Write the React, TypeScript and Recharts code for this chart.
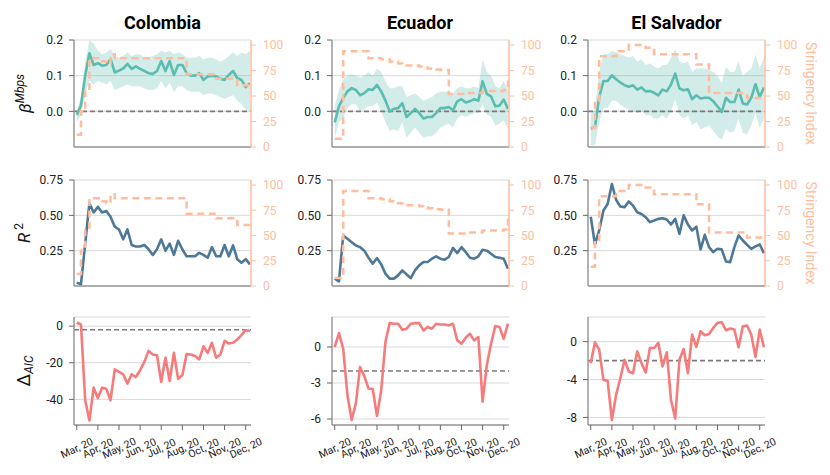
import React from 'react';
import { ComposedChart, Line, Area, XAxis, YAxis, CartesianGrid, ReferenceLine } from 'recharts';

// weekly points, Mar 2020 to Dec 2020
const monthTicks = [0, 5, 10, 15, 20, 25, 30, 35, 40];
const monthLabels = ['Mar, 20', 'Apr, 20', 'May, 20', 'Jun, 20', 'Jul, 20', 'Aug, 20', 'Oct, 20', 'Nov, 20', 'Dec, 20'];
const countries = ['Colombia', 'Ecuador', 'El Salvador'];

// Colombia
const colBeta = [-0.01, 0.016, 0.1, 0.163, 0.13, 0.135, 0.128, 0.13, 0.146, 0.109, 0.114, 0.12, 0.133, 0.119, 0.126, 0.119, 0.113, 0.107, 0.105, 0.113, 0.141, 0.113, 0.141, 0.102, 0.13, 0.13, 0.107, 0.1, 0.1, 0.107, 0.088, 0.098, 0.1, 0.098, 0.091, 0.088, 0.102, 0.113, 0.093, 0.088, 0.068, 0.079];
const colBetaHi = [0.0, 0.04, 0.14, 0.2, 0.19, 0.17, 0.16, 0.165, 0.175, 0.155, 0.15, 0.155, 0.165, 0.155, 0.16, 0.16, 0.15, 0.15, 0.155, 0.16, 0.17, 0.165, 0.17, 0.16, 0.165, 0.16, 0.15, 0.15, 0.15, 0.155, 0.145, 0.15, 0.15, 0.145, 0.14, 0.145, 0.155, 0.165, 0.155, 0.165, 0.16, 0.17];
const colBetaLo = [-0.03, -0.01, 0.05, 0.085, 0.075, 0.085, 0.08, 0.075, 0.085, 0.06, 0.065, 0.07, 0.075, 0.07, 0.07, 0.07, 0.065, 0.06, 0.06, 0.065, 0.085, 0.065, 0.08, 0.055, 0.07, 0.07, 0.06, 0.055, 0.055, 0.055, 0.045, 0.05, 0.05, 0.045, 0.04, 0.035, 0.04, 0.045, 0.03, 0.02, 0.005, 0.0];
const colR2 = [0.024, 0.012, 0.3, 0.586, 0.52, 0.56, 0.52, 0.53, 0.49, 0.42, 0.4, 0.33, 0.4, 0.29, 0.28, 0.28, 0.29, 0.26, 0.22, 0.26, 0.33, 0.25, 0.3, 0.22, 0.32, 0.26, 0.21, 0.21, 0.21, 0.235, 0.22, 0.2, 0.275, 0.21, 0.21, 0.29, 0.21, 0.287, 0.19, 0.165, 0.19, 0.153];
const colAic = [2.0, 0.9, -40.5, -51.5, -33.6, -39.3, -33.6, -34.2, -40.5, -23.6, -25, -26.3, -31.4, -26.3, -27.8, -24.1, -19.5, -13.5, -15.5, -15.9, -30.5, -17.2, -30, -14.6, -28.7, -26.8, -15.3, -15.5, -16.3, -18.1, -11, -14.6, -9.1, -17.2, -15.5, -8, -9.5, -9.1, -7.3, -4.9, -2.2, -2.6];
const colStringency = [12, 35, 55, 87, 87, 87, 84, 82, 91, 87, 87, 87, 87, 87, 87, 87, 87, 87, 87, 87, 87, 87, 87, 87, 87, 87, 71.5, 71.5, 71.5, 71.5, 71.5, 71.5, 71.5, 67, 67, 67, 67, 67, 60.5, 60.5, 60.5, 60.5];

// Ecuador
const ecuBeta = [-0.031, 0.014, 0.037, 0.056, 0.065, 0.06, 0.045, 0.051, 0.062, 0.06, 0.074, 0.056, 0.03, 0.0, 0.007, 0.009, 0.023, -0.016, -0.005, 0.007, -0.005, -0.02, -0.016, -0.016, -0.005, 0.009, 0.009, 0.012, 0.003, 0.028, 0.034, 0.025, 0.028, 0.034, 0.03, 0.084, 0.049, 0.042, 0.014, 0.016, 0.033, 0.007];
const ecuBetaHi = [0.014, 0.06, 0.09, 0.1, 0.105, 0.1, 0.095, 0.1, 0.11, 0.1, 0.12, 0.11, 0.085, 0.065, 0.065, 0.07, 0.07, 0.04, 0.045, 0.05, 0.04, 0.03, 0.035, 0.04, 0.05, 0.055, 0.055, 0.055, 0.05, 0.065, 0.07, 0.065, 0.065, 0.07, 0.065, 0.145, 0.11, 0.1, 0.07, 0.065, 0.085, 0.06];
const ecuBetaLo = [-0.075, -0.03, -0.02, 0.01, 0.02, 0.02, 0.0, 0.005, 0.015, 0.015, 0.025, 0.0, -0.03, -0.055, -0.05, -0.055, -0.03, -0.075, -0.06, -0.045, -0.06, -0.075, -0.07, -0.07, -0.06, -0.045, -0.04, -0.035, -0.045, -0.02, -0.01, -0.015, -0.01, -0.005, -0.005, 0.02, -0.01, -0.015, -0.04, -0.035, -0.025, -0.05];
const ecuR2 = [0.052, 0.033, 0.357, 0.334, 0.31, 0.287, 0.275, 0.25, 0.2, 0.158, 0.198, 0.153, 0.087, 0.052, 0.052, 0.075, 0.11, 0.082, 0.056, 0.11, 0.146, 0.17, 0.17, 0.193, 0.21, 0.193, 0.186, 0.205, 0.27, 0.233, 0.275, 0.24, 0.2, 0.193, 0.21, 0.256, 0.25, 0.228, 0.205, 0.2, 0.193, 0.122];
const ecuAic = [0, 1.16, -0.14, -4.0, -6.08, -4.7, -1.66, -2.43, -3.46, -3.5, -5.75, -3.6, 0.41, 1.99, 1.94, 1.94, 1.44, 1.52, 1.94, 1.99, 1.99, 1.38, 1.66, 1.52, 1.94, 1.88, 1.88, 1.8, 1.94, 0.55, 0.28, 0.77, 1.1, 0.55, 0.83, -4.56, -1.52, 0.28, 1.74, 1.66, 0.69, 1.94];
const ecuStringency = [8, 8, 94, 94, 94, 94, 94, 94, 87, 87, 87, 86, 86, 84, 84, 82, 80, 80, 80, 80, 79, 78, 77, 77, 76, 75.5, 75.5, 52, 52, 52, 52, 53, 53, 53, 53, 55, 55, 55, 55, 55, 56, 71];

// El Salvador
const slvBeta = [-0.049, -0.044, 0.04, 0.085, 0.085, 0.101, 0.09, 0.081, 0.073, 0.069, 0.073, 0.061, 0.067, 0.056, 0.057, 0.052, 0.045, 0.061, 0.056, 0.075, 0.106, 0.064, 0.059, 0.062, 0.034, 0.045, 0.036, 0.038, 0.038, 0.028, 0.014, -0.002, 0.038, 0.026, 0.026, 0.061, 0.022, 0.019, 0.038, 0.076, 0.04, 0.067];
const slvBetaHi = [-0.005, 0.005, 0.11, 0.16, 0.16, 0.17, 0.165, 0.16, 0.155, 0.15, 0.155, 0.14, 0.145, 0.13, 0.135, 0.125, 0.12, 0.13, 0.13, 0.15, 0.175, 0.14, 0.135, 0.14, 0.11, 0.12, 0.12, 0.12, 0.115, 0.11, 0.1, 0.08, 0.125, 0.11, 0.11, 0.14, 0.1, 0.11, 0.12, 0.16, 0.12, 0.15];
const slvBetaLo = [-0.095, -0.095, -0.03, 0.01, 0.01, 0.03, 0.03, 0.02, 0.01, 0.005, 0.0, -0.005, 0.0, -0.01, -0.01, -0.02, -0.02, -0.01, -0.02, 0.0, 0.035, -0.01, -0.02, -0.01, -0.04, -0.03, -0.05, -0.045, -0.04, -0.055, -0.07, -0.08, -0.05, -0.06, -0.055, -0.02, -0.06, -0.065, -0.04, -0.005, -0.045, -0.02];
const slvR2 = [0.49, 0.294, 0.393, 0.534, 0.58, 0.722, 0.61, 0.562, 0.558, 0.598, 0.569, 0.522, 0.51, 0.487, 0.452, 0.463, 0.475, 0.48, 0.47, 0.435, 0.475, 0.369, 0.5, 0.435, 0.393, 0.42, 0.259, 0.362, 0.275, 0.24, 0.263, 0.259, 0.174, 0.169, 0.275, 0.358, 0.322, 0.292, 0.263, 0.28, 0.294, 0.233];
const slvAic = [-2.27, -0.07, -0.85, -4.04, -4.14, -8.28, -5.63, -3.86, -1.91, -3.15, -3.33, -1.03, -2.27, -3.26, -0.67, -0.67, -0.14, -2.62, -1.13, -6.16, -8.1, -1.91, -0.78, -3.33, 0.74, -0.57, 1.1, 0.67, 0.81, 1.45, 1.98, 2.05, 1.2, 1.38, 1.27, -0.6, 1.63, 1.7, 0.74, -1.63, 1.27, -0.6];
const slvStringency = [19, 45, 89, 89, 89, 89, 94, 94, 94, 100, 100, 100, 100, 97.5, 97.5, 91, 91, 91, 91, 91, 91, 91, 91, 91, 91, 81, 81, 81, 53, 53, 53, 53, 53, 53, 53, 53, 53, 48, 48, 48, 48, 48];

const betaTicks = [0, 0.1, 0.2];
const r2Ticks = [0.25, 0.5, 0.75];
const stringencyTicks = [0, 25, 50, 75, 100];
const aicTicks = [[-40, -20, 0], [-6, -3, 0], [-8, -4, 0]];
const aicDomains = [[-54, 5], [-6.5, 2.5], [-8.8, 2.6]];

const TEAL = '#5bbcb0';
const BLUE = '#4d7897';
const RED = '#f67b7b';
const PEACH = '#ffbd9e';
const GRID = '#d9d9d9';
const AXIS = '#999999';
const DASH = '#7a7a7a';

const PLOT_W = 177;
const LEFT_W = 45;
const RIGHT_W = 36;
const colLeft = [74, 331.5, 588];

function buildRows(main: number[], str?: number[], lo?: number[], hi?: number[]) {
  return main.map((v, i) => ({
    week: i,
    main: v,
    str: str ? str[i] : undefined,
    band: lo && hi ? [lo[i], hi[i]] : undefined,
  }));
}

const MonthTick = (props: any) => {
  const { x, y, payload } = props;
  const idx = monthTicks.indexOf(payload.value);
  return (
    <g transform={`translate(${x},${y + 16}) rotate(-25)`}>
      <text textAnchor="middle" dy="0.35em" fontSize={10.5} fill="#222">{monthLabels[idx]}</text>
    </g>
  );
};

type PanelProps = {
  left: number;
  top: number;
  plotH: number;
  rows: any[];
  color: string;
  domain: number[];
  ticks: number[];
  fmt: (v: number) => string;
  refY?: number;
  band?: boolean;
  stringency?: boolean;
  xLabels?: boolean;
};

function Panel({ left, top, plotH, rows, color, domain, ticks, fmt, refY, band, stringency, xLabels }: PanelProps) {
  const xh = xLabels ? 45 : 10;
  const rightM = stringency ? 0 : 30;
  const w = LEFT_W + PLOT_W + (stringency ? RIGHT_W : rightM);
  return (
    <div style={{ position: 'absolute', left: left - LEFT_W, top: top - 10 }}>
      <ComposedChart width={w} height={10 + plotH + xh} data={rows} margin={{ top: 10, right: rightM, bottom: 0, left: 0 }}>
        <CartesianGrid yAxisId="left" vertical={false} stroke={GRID} strokeWidth={1} />
        <XAxis
          dataKey="week"
          type="number"
          domain={[-0.65, 41.25]}
          ticks={monthTicks}
          interval={0}
          allowDataOverflow
          height={xh}
          tickSize={5}
          tickLine={{ stroke: '#666' }}
          axisLine={{ stroke: AXIS, strokeWidth: 1.5 }}
          tick={xLabels ? (p: any) => <MonthTick {...p} /> : false}
        />
        <YAxis
          yAxisId="left"
          width={LEFT_W}
          domain={domain}
          ticks={ticks}
          interval={0}
          allowDataOverflow
          tickFormatter={fmt}
          tickSize={5}
          tickMargin={6}
          tickLine={{ stroke: '#666' }}
          axisLine={{ stroke: AXIS, strokeWidth: 1.5 }}
          tick={{ fontSize: 12, fill: '#222' }}
        />
        {stringency && (
          <YAxis
            yAxisId="right"
            orientation="right"
            width={RIGHT_W}
            domain={[0, 105]}
            ticks={stringencyTicks}
            interval={0}
            allowDataOverflow
            tickSize={5}
            tickMargin={7}
            tickLine={{ stroke: PEACH }}
            axisLine={{ stroke: PEACH, strokeWidth: 1.5 }}
            tick={{ fontSize: 12, fill: PEACH }}
          />
        )}
        {band && (
          <Area yAxisId="left" dataKey="band" stroke="none" fill={TEAL} fillOpacity={0.28} isAnimationActive={false} />
        )}
        {refY !== undefined && (
          <ReferenceLine yAxisId="left" y={refY} stroke={DASH} strokeDasharray="5 3" strokeWidth={1.6} />
        )}
        <Line yAxisId="left" dataKey="main" stroke={color} strokeWidth={2.6} dot={false} isAnimationActive={false} strokeLinejoin="round" />
        {stringency && (
          <Line yAxisId="right" type="stepAfter" dataKey="str" stroke={PEACH} strokeWidth={2.5} strokeDasharray="7 4.5" dot={false} isAnimationActive={false} />
        )}
      </ComposedChart>
    </div>
  );
}

const fmtBeta = (v: number) => v.toFixed(1);
const fmtR2 = (v: number) => v.toFixed(2);
const fmtAic = (v: number) => String(v);

export default function App() {
  const betas = [
    buildRows(colBeta, colStringency, colBetaLo, colBetaHi),
    buildRows(ecuBeta, ecuStringency, ecuBetaLo, ecuBetaHi),
    buildRows(slvBeta, slvStringency, slvBetaLo, slvBetaHi),
  ];
  const r2s = [
    buildRows(colR2, colStringency),
    buildRows(ecuR2, ecuStringency),
    buildRows(slvR2, slvStringency),
  ];
  const aics = [buildRows(colAic), buildRows(ecuAic), buildRows(slvAic)];

  return (
    <div style={{ position: 'absolute', left: 0, top: 0, width: 830, height: 475, background: '#fff', fontFamily: 'Roboto, sans-serif' }}>
      {colLeft.map((l, c) => (
        <React.Fragment key={c}>
          <Panel left={l} top={40} plotH={107} rows={betas[c]} color={TEAL} domain={[-0.1, 0.2]} ticks={betaTicks} fmt={fmtBeta} refY={0} band stringency />
          <Panel left={l} top={180} plotH={106} rows={r2s[c]} color={BLUE} domain={[0, 0.75]} ticks={r2Ticks} fmt={fmtR2} stringency />
          <Panel left={l} top={317} plotH={108} rows={aics[c]} color={RED} domain={aicDomains[c]} ticks={aicTicks[c]} fmt={fmtAic} refY={-2} xLabels />
        </React.Fragment>
      ))}
      <svg width={830} height={475} style={{ position: 'absolute', left: 0, top: 0, pointerEvents: 'none' }}>
        {countries.map((name, c) => (
          <text key={name} x={colLeft[c] + PLOT_W / 2} y={29} textAnchor="middle" fontSize={18} fontWeight="bold" fill="#000">
            {name}
          </text>
        ))}
        <text transform="translate(31,93.5) rotate(-90)" textAnchor="middle" fontSize={17} fill="#111">
          <tspan fontStyle="italic">β</tspan>
          <tspan fontStyle="italic" fontSize={12} dy={-7}>Mbps</tspan>
        </text>
        <text transform="translate(30,233) rotate(-90)" textAnchor="middle" fontSize={17} fill="#111">
          <tspan fontStyle="italic">R</tspan>
          <tspan fontSize={12} dy={-7}> 2</tspan>
        </text>
        <text transform="translate(30,371) rotate(-90)" textAnchor="middle" fontSize={18} fill="#111">
          <tspan>Δ</tspan>
          <tspan fontStyle="italic" fontSize={12} dy={3}>AIC</tspan>
        </text>
        <text transform="translate(806,93.5) rotate(90)" textAnchor="middle" fontSize={14} fill={PEACH}>
          Stringency Index
        </text>
        <text transform="translate(806,233) rotate(90)" textAnchor="middle" fontSize={14} fill={PEACH}>
          Stringency Index
        </text>
      </svg>
    </div>
  );
}
